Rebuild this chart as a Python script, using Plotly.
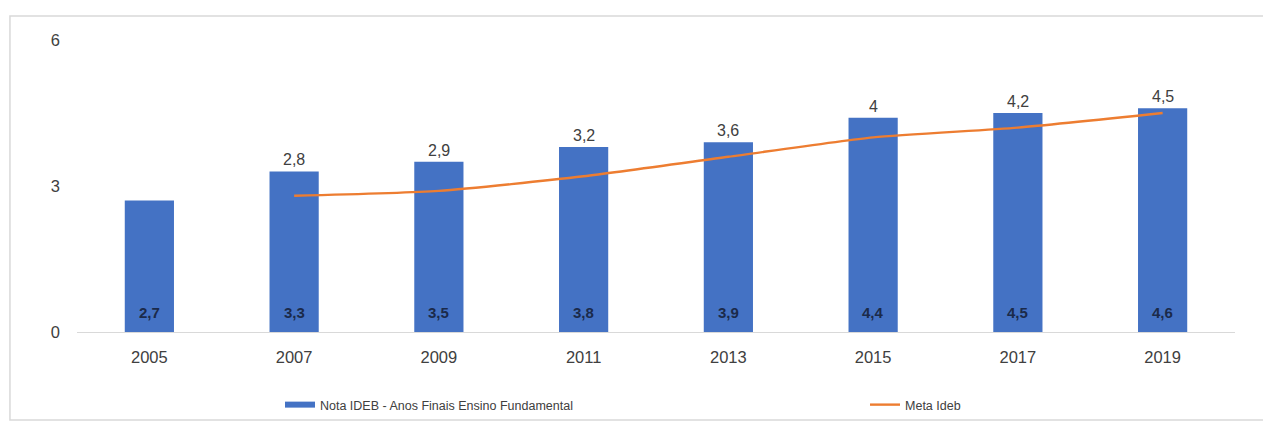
import plotly.graph_objects as go

# IDEB scores, final years of elementary school, and the targets (meta)
anos = ["2005", "2007", "2009", "2011", "2013", "2015", "2017", "2019"]
nota_ideb = [2.7, 3.3, 3.5, 3.8, 3.9, 4.4, 4.5, 4.6]
meta_anos = ["2007", "2009", "2011", "2013", "2015", "2017", "2019"]
meta_ideb = [2.8, 2.9, 3.2, 3.6, 4.0, 4.2, 4.5]
y_ticks = [0, 3, 6]

NOME_NOTA = "Nota IDEB - Anos Finais Ensino Fundamental"
NOME_META = "Meta Ideb"


def br(v):
    return f"{v:g}".replace(".", ",")


FONT = "Liberation Sans, Arial, sans-serif"
BLUE = "#4472C4"
ORANGE = "#ED7D31"
TEXT = "#404040"

fig = go.Figure()

fig.add_trace(go.Bar(
    x=anos,
    y=nota_ideb,
    name=NOME_NOTA,
    showlegend=False,
    marker=dict(color=BLUE, line=dict(width=0)),
    width=0.34,
))

fig.add_trace(go.Scatter(
    x=meta_anos,
    y=meta_ideb,
    name=NOME_META,
    mode="lines",
    line=dict(color=ORANGE, width=2.4, shape="spline", smoothing=0.6),
    legend="legend2",
))

# legend key for the bars, drawn as a thick bar-coloured stroke
fig.add_trace(go.Scatter(
    x=[None], y=[None], mode="lines", name=NOME_NOTA,
    line=dict(color=BLUE, width=6),
    legend="legend",
))

# score values written near the base of each bar
for i, v in enumerate(nota_ideb):
    fig.add_annotation(
        x=i, y=0, text=f"<b>{br(v)}</b>", showarrow=False,
        xref="x", yref="y",
        yanchor="bottom", yshift=9,
        font=dict(family=FONT, size=15, color="#1b2a4a"),
    )

# target values written above each bar (category positions by index)
bar_lookup = dict(zip(anos, nota_ideb))
for a, v in zip(meta_anos, meta_ideb):
    fig.add_annotation(
        x=anos.index(a), y=bar_lookup[a], text=br(v), showarrow=False,
        xref="x", yref="y",
        yanchor="bottom", yshift=1,
        font=dict(family=FONT, size=16, color=TEXT),
    )

legend_common = dict(
    orientation="h",
    yanchor="middle", y=-0.25,
    xanchor="left",
    font=dict(family=FONT, size=12.5, color=TEXT),
    itemwidth=30,
    bgcolor="rgba(0,0,0,0)",
)

fig.update_layout(
    width=1263, height=426,
    margin=dict(l=77, r=28, t=40, b=94, autoexpand=False),
    paper_bgcolor="white",
    plot_bgcolor="white",
    font=dict(family=FONT, size=16, color=TEXT),
    showlegend=True,
    legend=dict(x=0.1753, **legend_common),
    legend2=dict(x=0.6805, **legend_common),
    shapes=[dict(
        type="rect", xref="paper", yref="paper",
        x0=-0.0579, x1=1.05, y0=-0.301, y1=1.082,
        line=dict(color="#d9d9d9", width=1.5), fillcolor="rgba(0,0,0,0)",
        layer="below",
    )],
)

fig.update_xaxes(
    type="category",
    categoryorder="array", categoryarray=anos,
    range=[-0.5, len(anos) - 0.5],
    showgrid=False,
    showline=True, linecolor="#d9d9d9", linewidth=1,
    ticks="", ticklabelstandoff=10,
    tickfont=dict(family=FONT, size=16.5, color=TEXT),
)
fig.update_yaxes(
    range=[0, 6],
    tickvals=y_ticks,
    ticktext=[str(t) for t in y_ticks],
    showgrid=False, zeroline=False, showline=False,
    ticks="", ticklabelstandoff=16,
    tickfont=dict(family=FONT, size=16.5, color=TEXT),
)

fig.write_html("out.html")
